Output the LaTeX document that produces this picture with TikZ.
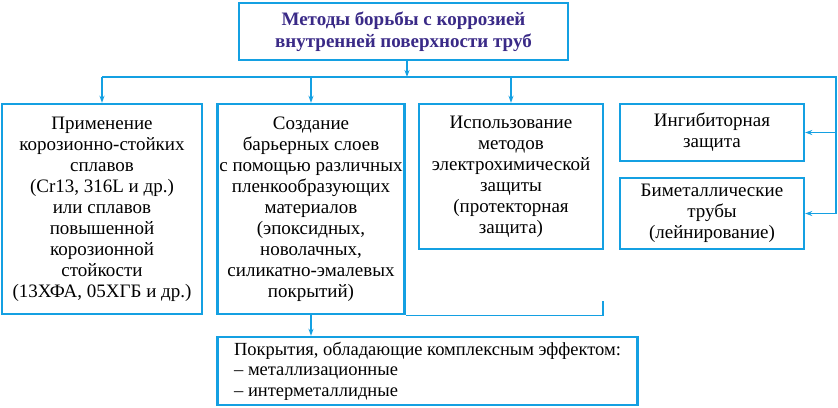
\documentclass[tikz,border=0pt]{standalone}
\usepackage{fontspec}
\setmainfont{Liberation Serif}
\usepackage{tikz}
\usetikzlibrary{arrows.meta}
\definecolor{boxblue}{RGB}{20,160,226}
\definecolor{titleviolet}{RGB}{58,42,135}

\begin{document}
\begin{tikzpicture}[x=1pt,y=-1pt,
  box/.style={draw=boxblue,line width=2.4pt,rectangle,inner sep=2pt,align=center,
    font=\fontsize{19}{21}\selectfont},
  link/.style={draw=boxblue,line width=1.3pt},
  arr/.style={link,-{Stealth[length=7pt,width=5pt]}}]
\useasboundingbox (0,0) rectangle (838,407);
\node[box,minimum width=329pt,minimum height=57pt,text=titleviolet,font=\bfseries\fontsize{19}{22}\selectfont] (title) at (403.5,31.5) {Методы борьбы с коррозией\\внутренней поверхности труб};
\node[box,minimum width=200pt,minimum height=210pt] (apply) at (102,209) {Применение\\корозионно-стойких\\сплавов\\(Cr13, 316L и др.)\\или сплавов\\повышенной\\корозионной\\стойкости\\(13ХФА, 05ХГБ и др.)};
\node[box,minimum width=184pt,minimum height=210pt] (barrier) at (311,209) {Создание\\барьерных слоев\\с помощью различных\\пленкообразующих\\материалов\\(эпоксидных,\\новолачных,\\силикатно-эмалевых\\покрытий)};
\node[box,minimum width=184pt,minimum height=145pt] (electro) at (511,176.5) {Использование\\методов\\электрохимической\\защиты\\(протекторная\\защита)};
\node[box,minimum width=184pt,minimum height=57pt] (inhib) at (712,132.5) {Ингибиторная\\защита};
\node[box,minimum width=184pt,minimum height=71pt] (bimetal) at (712,213.5) {Биметаллические\\трубы\\(лейнирование)};
\node[box,minimum width=420pt,minimum height=68pt,align=left,font=\fontsize{18.5}{20.5}\selectfont] (coat) at (427.5,371) {Покрытия, обладающие комплексным эффектом:\\– металлизационные\\– интерметаллидные};
\coordinate (split) at (407,77);
\coordinate (rail) at (836,77);
\coordinate (tick) at (603,301);
\draw[arr] (split |- title.south) -- (split);
\draw[link] (split -| apply.north) -- (rail) -- (rail |- bimetal.east);
\draw[arr] (split -| apply.north) -- (apply.north);
\draw[arr] (split -| barrier.north) -- (barrier.north);
\draw[arr] (split -| electro.north) -- (electro.north);
\draw[arr] (rail |- inhib.east) -- (inhib.east);
\draw[arr] (rail |- bimetal.east) -- (bimetal.east);
\draw[link] (barrier.south east) -- (barrier.south east -| tick) -- (tick);
\draw[arr] (barrier.south) -- (barrier.south |- coat.north);
\end{tikzpicture}
\end{document}
